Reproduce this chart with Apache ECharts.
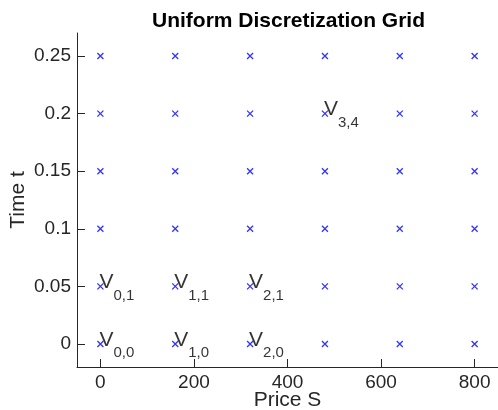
<!DOCTYPE html>
<html>
<head>
    <meta charset="utf-8">
    <title>Uniform Discretization Grid</title>
    <script src="https://cdn.jsdelivr.net/npm/echarts@6/dist/echarts.min.js"></script>
</head>
<body style="margin:0">
    <div id="main" style="width: 498px;height:410px;"></div>
    <script type="text/javascript">
        // grid nodes
        var prices = [0, 160, 320, 480, 640, 800];
        var times = [0, 0.05, 0.1, 0.15, 0.2, 0.25];
        // labelled nodes: [price, time, subscript]
        var labelled = [
            [0, 0, '0,0'], [160, 0, '1,0'], [320, 0, '2,0'],
            [0, 0.05, '0,1'], [160, 0.05, '1,1'], [320, 0.05, '2,1'],
            [480, 0.2, '3,4']
        ];
        var xTicks = [0, 200, 400, 600, 800];
        var yTicks = [0, 0.05, 0.1, 0.15, 0.2, 0.25];

        var nodes = [];
        for (var j = 0; j < times.length; j++) {
            for (var i = 0; i < prices.length; i++) {
                nodes.push([prices[i], times[j]]);
            }
        }

        var font = '"Liberation Sans", Arial, Helvetica, sans-serif';
        var ink = '#262626';

        var myChart = echarts.init(document.getElementById('main'));

        var option = {
            animation: false,
            textStyle: { fontFamily: font },
            title: {
                text: 'Uniform Discretization Grid',
                left: 147,
                top: 6,
                textStyle: { fontFamily: font, fontSize: 21, fontWeight: 'bold', color: '#000' }
            },
            grid: { left: 77, right: 0, top: 33, bottom: 43, outerBoundsMode: 'none', containLabel: false },
            xAxis: {
                type: 'value',
                min: -50,
                max: 850,
                name: 'Price S',
                nameLocation: 'middle',
                nameGap: 23,
                nameMoveOverlap: false,
                nameTextStyle: { fontFamily: font, fontSize: 21, color: ink },
                splitLine: { show: false },
                axisLine: { show: true, onZero: false, lineStyle: { color: ink, width: 1 } },
                axisTick: { show: true, inside: true, length: 8, customValues: xTicks, lineStyle: { color: ink } },
                axisLabel: { customValues: xTicks, fontSize: 19, color: ink, margin: 6, fontFamily: font }
            },
            yAxis: {
                type: 'value',
                min: -0.02,
                max: 0.27,
                name: 'Time t',
                nameLocation: 'middle',
                nameGap: 48,
                nameMoveOverlap: false,
                nameTextStyle: { fontFamily: font, fontSize: 21, color: ink },
                splitLine: { show: false },
                axisLine: { show: true, onZero: false, lineStyle: { color: ink, width: 1 } },
                axisTick: { show: true, inside: true, length: 8, customValues: yTicks, lineStyle: { color: ink } },
                axisLabel: {
                    customValues: yTicks, fontSize: 19, color: ink, margin: 6, fontFamily: font,
                    formatter: function (v) { return String(v); }
                }
            },
            series: [{
                type: 'scatter',
                data: nodes,
                symbol: 'path://M0,0L10,10M10,0L0,10',
                symbolSize: 6,
                itemStyle: { color: 'none', borderColor: '#0000ff', borderWidth: 1.3 }
            }, {
                type: 'scatter',
                data: labelled.map(function (d) { return { value: [d[0], d[1]], sub: d[2] }; }),
                symbolSize: 0,
                silent: true,
                label: {
                    show: true,
                    position: 'right',
                    distance: 0,
                    offset: [-1, -4],
                    formatter: function (p) { return '{v|V}{s|' + p.data.sub + '}'; },
                    rich: {
                        v: { fontFamily: font, fontSize: 21, color: '#000', lineHeight: 21 },
                        s: { fontFamily: font, fontSize: 15, color: '#000', lineHeight: 15, padding: [26, 0, 0, 0] }
                    }
                }
            }]
        };

        myChart.setOption(option);
    </script>
</body>
</html>
